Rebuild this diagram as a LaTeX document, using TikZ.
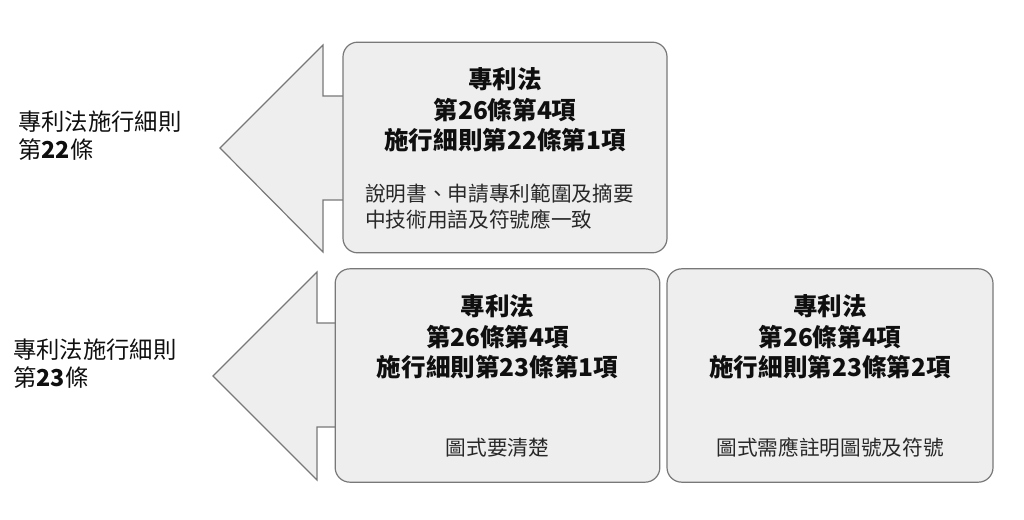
\documentclass[tikz,border=0pt]{standalone}
\usepackage{fontspec}
\setmainfont{Noto Sans CJK TC}
\usepackage{tikz}
\usetikzlibrary{positioning}
\definecolor{mygray}{RGB}{238,238,238}
\definecolor{myframe}{RGB}{120,120,120}
\definecolor{mytext}{RGB}{15,15,15}
\definecolor{mybody}{RGB}{40,40,40}
\tikzset{
  lawbox/.style={rectangle, draw=myframe, fill=mygray, rounded corners=11pt,
    line width=0.9pt},
  arrowshape/.style={draw=myframe, fill=mygray, line width=0.9pt, line join=miter},
  title/.style={align=center, font=\fontsize{18.4}{23}\selectfont\bfseries,
    text=mytext, inner sep=0pt},
  body/.style={font=\fontsize{15.5}{20}\selectfont, text=mybody, inner sep=0pt},
  side/.style={align=left, anchor=west, font=\fontsize{17.5}{21}\selectfont,
    text=mytext, inner sep=0pt}
}

\begin{document}
\begin{tikzpicture}[x=0.75pt, y=-0.75pt]
  \useasboundingbox (0,0) rectangle (1024,520);

  % Top row: arrow behind the box
  \draw[arrowshape] (360,96) -- (323,96) -- (323,45) -- (220,148) -- (323,252)
    -- (323,200) -- (360,200);
  \node[lawbox, minimum width=243pt, minimum height=158pt] (box1) at (505,147.5) {};
  \node[title] (title1) at (505,110) {專利法\\第\textbf{26}條第\textbf{4}項\\施行細則第\textbf{22}條第\textbf{1}項};
  \node[body, align=left, anchor=west] (text1) at (365,206.5)
    {說明書、申請專利範圍及摘要\\中技術用語及符號應一致};
  \node[side] (rule22) at (18,136) {專利法施行細則\\第\textbf{22}條};

  % Bottom row: arrow behind the left box
  \draw[arrowshape] (352,323) -- (317,323) -- (317,272) -- (213,376) -- (317,480)
    -- (317,427) -- (352,427);
  \node[lawbox, minimum width=243.5pt, minimum height=160pt] (box2) at (497.5,375.5) {};
  \node[title] (title2) at (497.5,337) {專利法\\第\textbf{26}條第\textbf{4}項\\施行細則第\textbf{23}條第\textbf{1}項};
  \node[body] (text2) at (497.5,448) {圖式要清楚};
  \node[side] (rule23) at (13,363.5) {專利法施行細則\\第\textbf{23}條};

  % Bottom row: right box
  \node[lawbox, minimum width=244.5pt, minimum height=160pt] (box3) at (830,375.5) {};
  \node[title] (title3) at (830,337) {專利法\\第\textbf{26}條第\textbf{4}項\\施行細則第\textbf{23}條第\textbf{2}項};
  \node[body] (text3) at (830,448) {圖式需應註明圖號及符號};
\end{tikzpicture}
\end{document}
